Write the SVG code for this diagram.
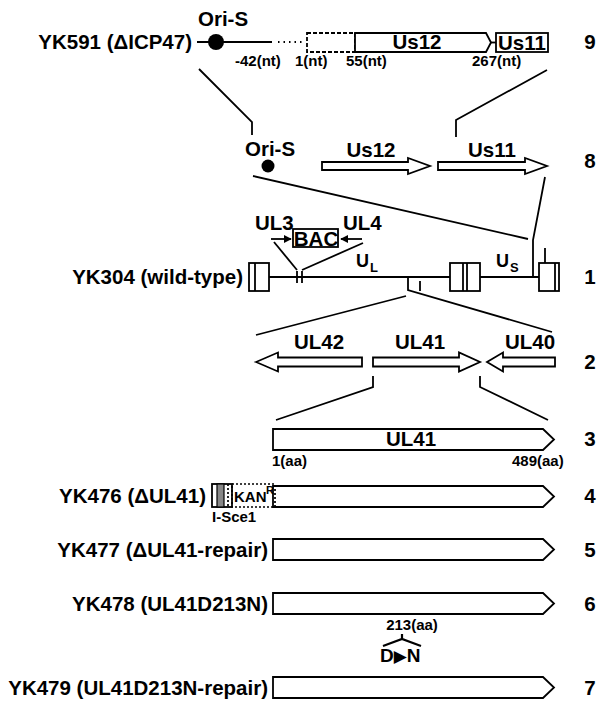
<svg xmlns="http://www.w3.org/2000/svg" width="608" height="703" viewBox="0 0 608 703">
<style>
text{font-family:"Liberation Sans",Arial,sans-serif;font-weight:bold;fill:#000}
.lbl{font-size:20.5px}
.sm{font-size:15px}
.c{text-anchor:middle}
.e{text-anchor:end}
.ln{stroke:#000;stroke-width:1.8;fill:none}
.bx{fill:#fff;stroke:#000;stroke-width:1.8}
.dash{fill:#fff;stroke:#000;stroke-width:1.8;stroke-dasharray:4 2}
.dot{fill:none;stroke:#000;stroke-width:1.7;stroke-dasharray:2 2}
</style>
<defs>
<marker id="ah" viewBox="0 0 10 10" refX="9" refY="5" markerWidth="4.5" markerHeight="4.5" orient="auto">
<path d="M0 0 L10 5 L0 10 Z" fill="#000"/>
</marker>
</defs>
<rect width="608" height="703" fill="#fff"/>

<!-- connectors -->
<g id="connectors" class="ln">
<polyline points="199,69 252,122 252,135"/>
<polyline points="547,70 456,120 456,137"/>
<line x1="253" y1="176" x2="528" y2="239"/>
<polyline points="545,177 533,240 533,277"/>
<polyline points="408,277 408,290 552,332"/>
<line x1="256" y1="335" x2="406" y2="296"/>
<polyline points="373,376 373,387 276,420"/>
<polyline points="480,376 480,387 548,420"/>
</g>

<!-- row 9 -->
<g id="row9">
<text class="lbl e" x="192" y="49">YK591 (ΔICP47)</text>
<text class="lbl" x="198" y="26">Ori-S</text>
<line class="ln" x1="197" y1="42" x2="272" y2="42"/>
<circle cx="216" cy="42" r="8" fill="#000"/>
<line x1="278" y1="42" x2="304" y2="42" stroke="#000" stroke-width="1.8" stroke-dasharray="1.5 4"/>
<rect class="dash" x="307" y="33" width="48" height="19"/>
<path class="bx" d="M355 33 H486 L491 42.5 L486 52 H355 Z"/>
<text class="lbl c" x="417" y="49">Us12</text>
<line class="ln" x1="491" y1="42.5" x2="496" y2="42.5"/>
<rect class="bx" x="496" y="33" width="52" height="19"/>
<text class="lbl c" x="522" y="50">Us11</text>
<text class="sm" x="235" y="66">-42(nt)</text>
<text class="sm" x="295" y="66">1(nt)</text>
<text class="sm" x="346" y="66">55(nt)</text>
<text class="sm" x="472" y="66">267(nt)</text>
<text class="lbl c" x="590" y="49">9</text>
</g>

<!-- row 8 -->
<g id="row8">
<text class="lbl" x="245" y="156">Ori-S</text>
<circle cx="268" cy="166" r="6.5" fill="#000"/>
<path class="bx" d="M322 162 H408 V158 L430 166 L408 174 V170 H322 Z"/>
<text class="lbl c" x="371" y="157">Us12</text>
<path class="bx" d="M438 162 H525 V158 L547 166 L525 174 V170 H438 Z"/>
<text class="lbl c" x="492" y="157">Us11</text>
<text class="lbl c" x="590" y="168">8</text>
</g>

<!-- row 1 -->
<g id="row1">
<text class="lbl e" x="243" y="284">YK304 (wild-type)</text>
<line class="ln" x1="269" y1="277" x2="539" y2="277"/>
<rect class="bx" x="249" y="263" width="20" height="28"/>
<line class="ln" x1="255" y1="263" x2="255" y2="291"/>
<rect class="bx" x="450" y="263" width="30" height="28"/>
<line class="ln" x1="463" y1="263" x2="463" y2="291"/>
<line class="ln" x1="467" y1="263" x2="467" y2="291"/>
<rect class="bx" x="539" y="263" width="20" height="28"/>
<line class="ln" x1="555" y1="263" x2="555" y2="291"/>
<line class="ln" x1="545" y1="248" x2="545" y2="263"/>
<line class="ln" x1="297" y1="271" x2="297" y2="283"/>
<line class="ln" x1="302" y1="271" x2="302" y2="283"/>
<line class="ln" x1="274" y1="242" x2="297" y2="270"/>
<line class="ln" x1="302" y1="270" x2="363" y2="243"/>
<line class="ln" x1="420" y1="281" x2="420" y2="291"/>
<text x="356" y="267" font-size="18">U</text>
<text x="370" y="272" font-size="13">L</text>
<text x="496" y="267" font-size="18">U</text>
<text x="510" y="272" font-size="13">S</text>
<text class="lbl c" x="590" y="284">1</text>
</g>

<g id="bac">
<rect class="bx" x="293" y="229" width="45" height="18"/>
<text class="lbl c" x="316" y="246">BAC</text>
<line class="ln" x1="271" y1="239" x2="291" y2="239" marker-end="url(#ah)"/>
<line class="ln" x1="362" y1="239" x2="341" y2="239" marker-end="url(#ah)"/>
<text class="lbl" x="255" y="230">UL3</text>
<text class="lbl" x="343" y="230">UL4</text>
</g>

<!-- row 2 -->
<g id="row2">
<path class="bx" d="M362 357.5 H278 V352.5 L256 362 L278 371.5 V366.5 H362 Z"/>
<text class="lbl c" x="319" y="349">UL42</text>
<path class="bx" d="M373 357.5 H459 V352.5 L480 362 L459 371.5 V366.5 H373 Z"/>
<text class="lbl c" x="420" y="349">UL41</text>
<path class="bx" d="M555 357.5 H503 V352.5 L487 362 L503 371.5 V366.5 H555 Z"/>
<text class="lbl c" x="530" y="349">UL40</text>
<text class="lbl c" x="590" y="369">2</text>
</g>

<!-- row 3 -->
<g id="row3">
<path class="bx" d="M273 429 H543 L554 439.5 L543 450 H273 Z"/>
<text class="lbl c" x="411" y="446">UL41</text>
<text class="sm" x="272" y="466">1(aa)</text>
<text class="sm" x="512" y="466">489(aa)</text>
<text class="lbl c" x="590" y="446">3</text>
</g>

<!-- row 4 -->
<g id="row4">
<text class="lbl e" x="206" y="503">YK476 (ΔUL41)</text>
<path class="bx" d="M273 486 H543 L554 496.5 L543 507 H273 Z"/>
<rect class="bx" x="212" y="484" width="20" height="23"/>
<rect x="217" y="484" width="7" height="23" fill="#888" stroke="#000" stroke-width="1.2"/>
<line class="dot" x1="228" y1="484" x2="228" y2="507"/>
<rect class="dot" x="232" y="484" width="43" height="23"/>
<text class="sm" x="234" y="502">KAN</text>
<text x="266" y="494" font-size="11">R</text>
<text class="sm" x="212" y="522">I-Sce1</text>
<text class="lbl c" x="590" y="503">4</text>
</g>

<!-- row 5 -->
<g id="row5">
<text class="lbl e" x="268" y="557">YK477 (ΔUL41-repair)</text>
<path class="bx" d="M273 539 H543 L554 549.5 L543 560 H273 Z"/>
<text class="lbl c" x="590" y="557">5</text>
</g>

<!-- row 6 -->
<g id="row6">
<text class="lbl e" x="268" y="611">YK478 (UL41D213N)</text>
<path class="bx" d="M273 593 H543 L554 603.5 L543 614 H273 Z"/>
<text class="lbl c" x="590" y="611">6</text>
<text class="sm c" x="412" y="630">213(aa)</text>
<path d="M383 646 L402 639 L421 646 M402 639 V634" fill="none" stroke="#000" stroke-width="2.2"/>
<text x="380" y="662" font-size="19">D<tspan font-family="DejaVu Sans" font-size="17">▶</tspan>N</text>
</g>

<!-- row 7 -->
<g id="row7">
<text class="lbl e" x="268" y="695">YK479 (UL41D213N-repair)</text>
<path class="bx" d="M273 677 H543 L554 687.5 L543 698 H273 Z"/>
<text class="lbl c" x="590" y="695">7</text>
</g>
</svg>
